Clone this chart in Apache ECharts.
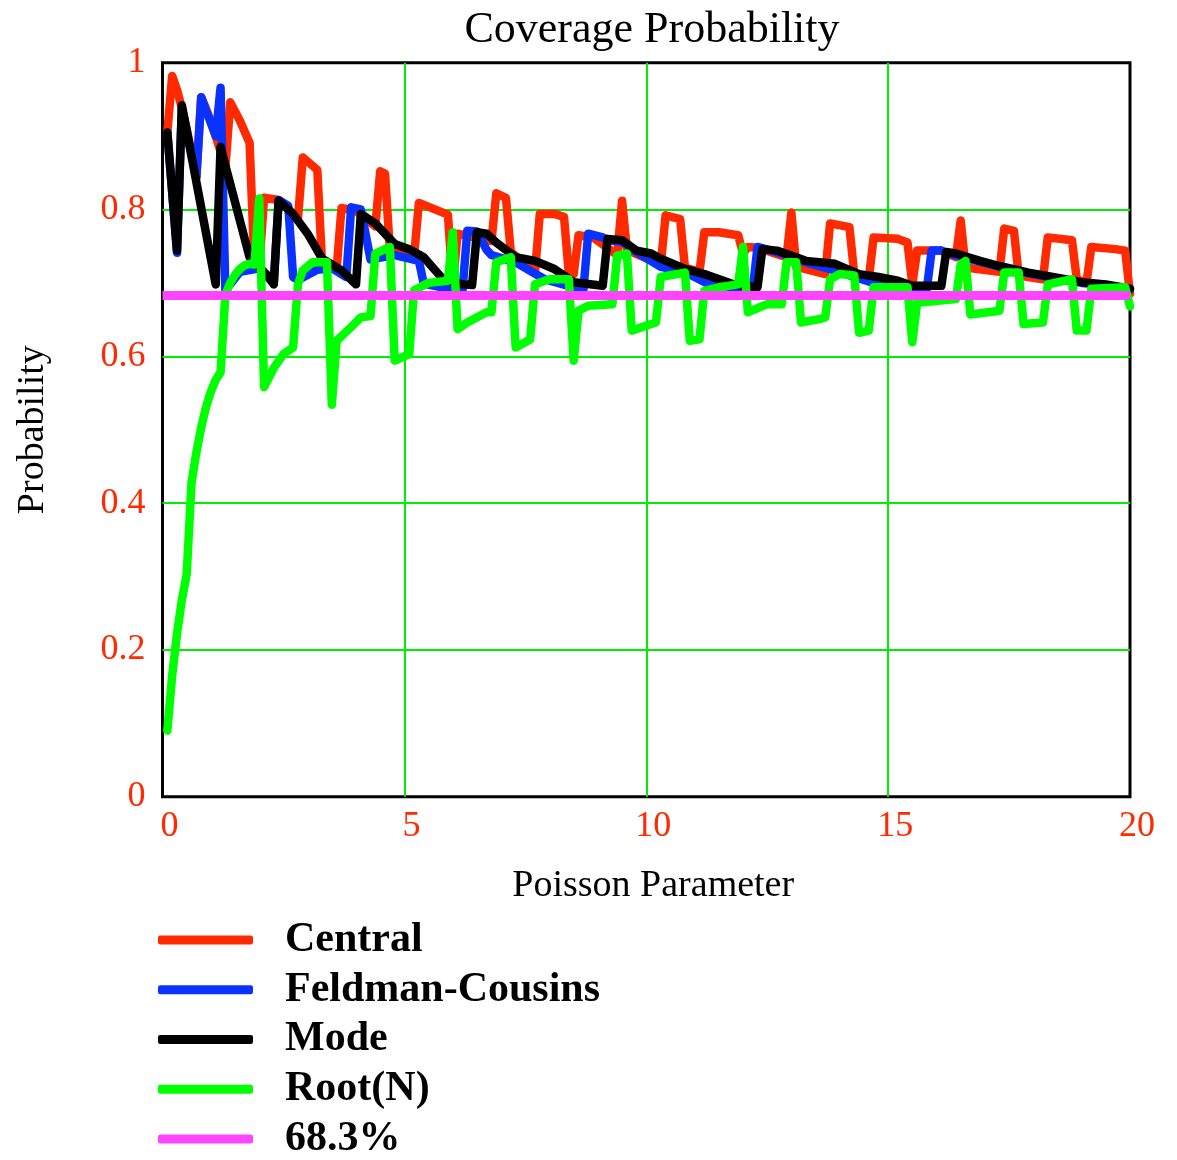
<!DOCTYPE html>
<html><head><meta charset="utf-8">
<script src="https://cdn.jsdelivr.net/npm/echarts@6/dist/echarts.min.js"></script>
<style>html,body{margin:0;padding:0;background:#fff}#c{width:1177px;height:1160px}</style>
</head><body><div id="c"></div>
<script>
// Values: [Poisson parameter, coverage probability]
const seriesNames = ['Central', 'Feldman-Cousins', 'Mode', 'Root(N)', '68.3%'];

const central = [[0.1,.905],[0.2,.982],[0.3,.963],[0.4,.938],[0.5,.910],[0.6,.878],[0.7,.844],[0.8,.953],[0.9,.937],[1.0,.920],[1.1,.900],[1.2,.879],[1.3,.857],[1.4,.946],[1.6,.921],[1.8,.891],[1.9,.725],[2.0,.722],[2.1,.816],[2.4,.813],[2.8,.787],[2.9,.871],[3.2,.854],[3.3,.724],[3.6,.719],[3.7,.802],[4.0,.798],[4.4,.777],[4.5,.852],[4.6,.849],[4.7,.744],[5.2,.736],[5.3,.809],[5.9,.793],[6.0,.696],[6.1,.767],[6.8,.757],[6.9,.822],[7.1,.816],[7.2,.742],[7.7,.715],[7.8,.794],[8.1,.794],[8.3,.790],[8.4,.712],[8.5,.712],[8.6,.765],[8.9,.762],[9.4,.738],[9.5,.812],[9.6,.745],[10.3,.725],[10.4,.792],[10.7,.787],[10.8,.721],[11.1,.715],[11.2,.769],[11.5,.769],[11.9,.765],[12.0,.740],[12.1,.749],[12.3,.748],[12.9,.735],[13.0,.796],[13.1,.722],[13.7,.712],[13.8,.781],[14.2,.776],[14.3,.712],[14.6,.705],[14.7,.762],[15.2,.760],[15.4,.755],[15.5,.698],[15.6,.744],[16.1,.744],[16.4,.735],[16.5,.785],[16.6,.721],[17.3,.715],[17.4,.774],[17.6,.771],[17.7,.710],[18.2,.705],[18.3,.762],[18.8,.758],[18.9,.705],[19.1,.700],[19.2,.749],[19.7,.746],[19.9,.744],[20.0,.685]];

const feldmanCousins = [[0.1,.905],[0.3,.741],[0.4,.938],[0.7,.844],[0.8,.953],[1.1,.900],[1.2,.966],[1.3,.690],[1.6,.715],[2.0,.720],[2.3,.699],[2.4,.813],[2.6,.805],[2.7,.708],[2.8,.704],[3.2,.718],[3.5,.720],[3.8,.708],[3.9,.803],[4.1,.800],[4.3,.732],[4.8,.738],[5.3,.730],[5.4,.699],[6.2,.688],[6.3,.771],[6.5,.770],[6.7,.745],[6.8,.738],[7.3,.728],[7.9,.705],[8.7,.690],[8.8,.767],[9.1,.762],[9.2,.758],[9.5,.756],[9.8,.742],[10.3,.722],[10.8,.715],[11.3,.698],[11.8,.694],[12.2,.690],[12.3,.749],[12.7,.742],[13.3,.728],[13.9,.717],[14.4,.706],[14.8,.698],[15.2,.695],[15.8,.692],[15.9,.744],[16.1,.744],[16.2,.741],[16.9,.729],[17.3,.722],[17.9,.713],[18.4,.707],[19.0,.700],[19.5,.697],[20.0,.691]];

const mode = [[0.1,.905],[0.3,.744],[0.4,.942],[1.1,.698],[1.2,.885],[1.8,.735],[2.2,.708],[2.3,.698],[2.4,.812],[2.7,.794],[3.0,.767],[3.3,.733],[3.7,.717],[4.0,.698],[4.1,.794],[4.4,.781],[4.8,.753],[5.1,.746],[5.4,.735],[5.8,.705],[6.2,.698],[6.4,.697],[6.5,.769],[6.7,.767],[6.9,.755],[7.3,.735],[7.7,.730],[8.1,.719],[8.3,.710],[8.5,.701],[9.1,.696],[9.2,.760],[9.5,.758],[9.8,.744],[10.1,.740],[10.3,.733],[10.8,.719],[11.2,.712],[11.8,.698],[12.3,.694],[12.4,.746],[12.7,.744],[13.3,.730],[13.9,.726],[14.4,.712],[14.8,.708],[15.2,.703],[15.5,.696],[16.1,.696],[16.2,.742],[16.4,.740],[16.9,.730],[17.3,.723],[17.9,.714],[18.4,.708],[19.0,.701],[19.5,.698],[20.0,.692]];

const rootN = [[0.1,.090],[0.2,.165],[0.3,.222],[0.4,.268],[0.5,.303],[0.6,.428],[0.7,.469],[0.8,.503],[0.9,.531],[1.0,.552],[1.1,.568],[1.2,.578],[1.3,.684],[1.4,.700],[1.5,.711],[1.6,.719],[1.7,.724],[1.8,.726],[1.9,.725],[2.0,.815],[2.1,.558],[2.3,.584],[2.5,.603],[2.7,.612],[2.8,.698],[2.9,.717],[3.1,.728],[3.4,.728],[3.5,.534],[3.6,.621],[3.9,.640],[4.1,.653],[4.3,.655],[4.4,.740],[4.7,.749],[4.8,.594],[5.1,.603],[5.2,.690],[5.5,.700],[5.9,.703],[6.0,.769],[6.1,.637],[6.3,.646],[6.7,.660],[6.8,.660],[6.9,.728],[7.2,.735],[7.3,.612],[7.6,.623],[7.7,.698],[8.0,.705],[8.4,.705],[8.5,.594],[8.6,.662],[8.8,.669],[9.3,.671],[9.4,.737],[9.6,.740],[9.7,.635],[10.1,.644],[10.2,.646],[10.3,.708],[10.8,.714],[10.9,.621],[11.1,.623],[11.2,.689],[11.5,.694],[11.9,.698],[12.0,.749],[12.1,.660],[12.5,.671],[12.8,.671],[12.9,.728],[13.1,.728],[13.2,.646],[13.6,.651],[13.7,.653],[13.8,.705],[14.0,.712],[14.3,.710],[14.4,.632],[14.6,.635],[14.7,.694],[15.4,.694],[15.5,.619],[15.6,.673],[16.4,.678],[16.5,.725],[16.6,.730],[16.7,.657],[17.3,.662],[17.4,.714],[17.7,.714],[17.8,.644],[18.2,.646],[18.3,.698],[18.8,.705],[18.9,.635],[19.1,.635],[19.2,.692],[19.9,.694],[20.0,.668]];

const target = [[0,.683],[20,.683]];

const colors = ['#ff2a00', '#0a32ff', '#000000', '#00ff00', '#ff44ff'];
const dataSets = [central, feldmanCousins, mode, rootN, target];

const serif = 'Liberation Serif';
const chart = echarts.init(document.getElementById('c'), null, {renderer: 'canvas'});
chart.setOption({
  animation: false,
  backgroundColor: '#fff',
  title: {
    text: 'Coverage Probability', left: 652, top: 8, textAlign: 'center', padding: 0,
    textStyle: {fontFamily: serif, fontSize: 44, fontWeight: 'normal', color: '#000'}
  },
  grid: {left: 162.5, right: 47, top: 62.7, bottom: 363.3, show: true,
         borderColor: '#000', borderWidth: 3, backgroundColor: 'transparent'},
  legend: {
    orient: 'vertical', left: 158, top: 919, height: 600, padding: 0,
    itemWidth: 95, itemHeight: 9, itemGap: 7.75,
    icon: 'roundRect', data: seriesNames,
    textStyle: {fontFamily: serif, fontSize: 42, fontWeight: 'bold', color: '#000',
                lineHeight: 40, padding: [0, 0, 0, 27]}
  },
  xAxis: {
    type: 'value', min: 0, max: 20, interval: 5,
    axisLine: {show: false}, axisTick: {show: false},
    splitLine: {show: true, showMinLine: false, showMaxLine: false,
                lineStyle: {color: '#00ee00', width: 2}},
    axisLabel: {color: '#ff2a00', fontFamily: serif, fontSize: 36, margin: 12, padding: [0, 0, 0, 14]},
    name: 'Poisson Parameter', nameLocation: 'middle', nameGap: 70,
    nameTextStyle: {fontFamily: serif, fontSize: 38, color: '#000', padding: [0, 0, 0, 14]}
  },
  yAxis: {
    type: 'value', min: 0, max: 1, interval: 0.2,
    axisLine: {show: false}, axisTick: {show: false},
    splitLine: {show: true, showMinLine: false, showMaxLine: false,
                lineStyle: {color: '#00ee00', width: 2}},
    axisLabel: {color: '#ff2a00', fontFamily: serif, fontSize: 36, margin: 17},
    name: 'Probability', nameLocation: 'middle', nameGap: 110, nameRotate: 90,
    nameTextStyle: {fontFamily: serif, fontSize: 38, color: '#000'}
  },
  series: seriesNames.map((n, i) => ({
    type: 'line', name: n, data: dataSets[i],
    symbol: 'none', showSymbol: false,
    lineStyle: {width: i === 4 ? 9 : 8.5, color: colors[i], cap: i === 4 ? 'butt' : 'round', join: 'round'},
    itemStyle: {color: colors[i]},
    z: 2 + i
  }))
});
</script></body></html>
